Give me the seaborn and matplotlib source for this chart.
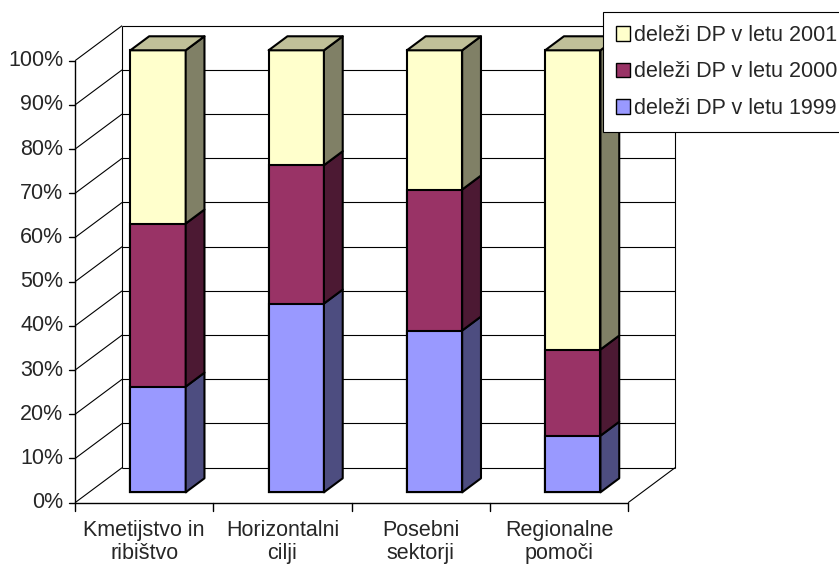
import numpy as np
import pandas as pd
import matplotlib
matplotlib.use('Agg')
import matplotlib.pyplot as plt
from matplotlib.patches import Polygon, Patch
import seaborn as sns

# ==================== data ====================
categories = ['Kmetijstvo in\nribištvo', 'Horizontalni\ncilji', 'Posebni\nsektorji', 'Regionalne\npomoči']
share_1999 = [23.9, 42.7, 36.6, 12.8]
share_2000 = [36.9, 31.3, 31.9, 19.5]
share_2001 = [39.2, 26.0, 31.5, 67.7]
series_names = ['deleži DP v letu 1999', 'deleži DP v letu 2000', 'deleži DP v letu 2001']
y_ticks = list(range(0, 101, 10))

# excel-like colours: front, side, top
front_cols = ['#9999FF', '#993366', '#FFFFCC']
side_cols = ['#4D4D80', '#4C1933', '#808066']
top_col = '#C0C099'

sns.set_style('white')
plt.rcParams['font.family'] = ['Liberation Sans', 'DejaVu Sans']
FS = 15.5

# ==================== 3D geometry (data units) ====================
fx, fy = -0.10, -2.35      # front plane relative to bar front faces
DX, DY = 0.34, 7.92        # full depth of the box
bdx, bdy = 0.136, 3.17     # depth of one bar
bar_w = 0.4

fig = plt.figure(figsize=(8.39, 5.67), dpi=100)
ax = fig.add_axes([0, 0, 1, 1])

df = pd.DataFrame({'cat': categories,
                   's1999': share_1999, 's2000': share_2000, 's2001': share_2001})
df['c1'] = df['s1999']
df['c2'] = df['s1999'] + df['s2000']
df['c3'] = df['c2'] + df['s2001']

n = len(categories)
x0, x1 = -0.5 + fx, n - 0.5 + fx
bx0, bx1, by = x0 + DX, x1 + DX, fy + DY
line_kw = dict(color='black', lw=0.8, zorder=0.5, solid_capstyle='butt')

# walls & gridlines
for v in y_ticks:
    ax.plot([bx0, bx1], [v + by, v + by], **line_kw)
    ax.plot([x0, bx0], [v + fy, v + by], **line_kw)
ax.plot([bx0, bx0], [by, 100 + by], **line_kw)
ax.plot([bx1, bx1], [by, 100 + by], **line_kw)
ax.plot([x1, bx1], [fy, by], **line_kw)

# front axes
ax.plot([x0, x1], [fy, fy], color='black', lw=1, zorder=0.6)
ax.plot([x0, x0], [fy, 100 + fy], color='black', lw=1, zorder=0.6)
for v in y_ticks:
    ax.plot([x0 - 0.045, x0], [v + fy, v + fy], color='black', lw=1)
    ax.text(x0 - 0.085, v + fy, f'{v}%', ha='right', va='center', fontsize=FS)
for i in range(n + 1):
    ax.plot([x0 + i, x0 + i], [fy, fy - 1.9], color='black', lw=1)
for i, c in enumerate(categories):
    ax.text(i + fx, fy - 3.9, c, ha='center', va='top', fontsize=FS, linespacing=1.1)

# front faces: stacked via overplotting cumulative totals
for col, fc in zip(['c3', 'c2', 'c1'], front_cols[::-1]):
    sns.barplot(data=df, x='cat', y=col, color=fc, saturation=1, width=bar_w,
                edgecolor='black', linewidth=1.5, ax=ax, zorder=2)

# side and top faces
for i in range(n):
    left = i - bar_w / 2
    right = i + bar_w / 2
    bounds = [0, df['c1'][i], df['c2'][i], df['c3'][i]]
    for k in range(3):
        y0, y1 = bounds[k], bounds[k + 1]
        ax.add_patch(Polygon([[right, y0], [right + bdx, y0 + bdy],
                              [right + bdx, y1 + bdy], [right, y1]],
                             closed=True, facecolor=side_cols[k], edgecolor='black',
                             lw=1.5, zorder=3, joinstyle='round'))
    top = bounds[-1]
    ax.add_patch(Polygon([[left, top], [right, top], [right + bdx, top + bdy],
                          [left + bdx, top + bdy]],
                         closed=True, facecolor=top_col, edgecolor='black',
                         lw=1.5, zorder=3, joinstyle='round'))

ax.set_xlim(-1.1429, 4.9255)
ax.set_ylim(-16.9, 111.38)
ax.axis('off')

handles = [Patch(facecolor=front_cols[k], edgecolor='black', lw=1) for k in [2, 1, 0]]
labels = [series_names[k] for k in [2, 1, 0]]
leg = fig.legend(handles, labels, loc='upper left', bbox_to_anchor=(603 / 839, 1 - 12 / 567),
                 borderaxespad=0, frameon=True, fancybox=False, edgecolor='black',
                 framealpha=1, fontsize=FS, handlelength=0.65, handleheight=0.65,
                 handletextpad=0.2, labelspacing=0.72, borderpad=0.6)
leg.get_frame().set_linewidth(0.8)

plt.savefig('out.png', dpi=100)
plt.close()
